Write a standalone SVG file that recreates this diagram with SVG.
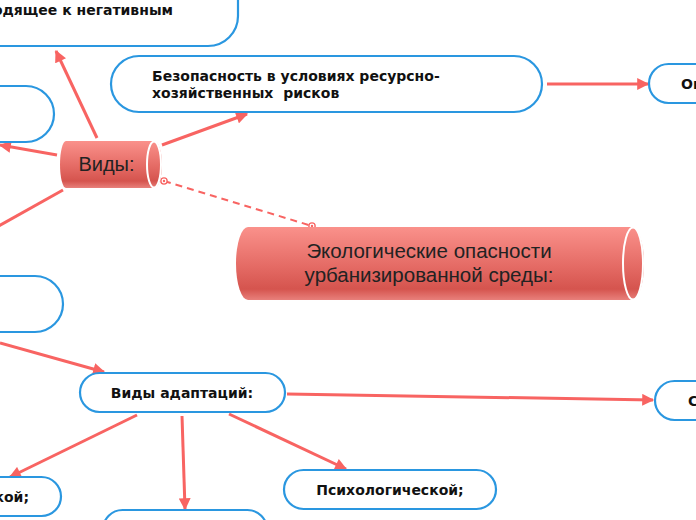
<svg xmlns="http://www.w3.org/2000/svg" width="696" height="520" viewBox="0 0 696 520">
<defs>
<linearGradient id="cyl" x1="0" y1="0" x2="0" y2="1">
<stop offset="0" stop-color="#fa918b"/>
<stop offset="0.55" stop-color="#e46a64"/>
<stop offset="0.85" stop-color="#d5544e"/>
<stop offset="1" stop-color="#e8807b"/>
</linearGradient>
<marker id="arr" viewBox="0 0 10 10" refX="9" refY="5" markerWidth="4.2" markerHeight="4" orient="auto" markerUnits="strokeWidth">
<path d="M0,0 L10,5 L0,10 z" fill="#f86462"/>
</marker>
<marker id="dot" viewBox="0 0 10 10" refX="5" refY="5" markerWidth="9" markerHeight="9" markerUnits="userSpaceOnUse">
<circle cx="5" cy="5" r="3.5" fill="#fff" stroke="#f86462" stroke-width="1.5"/>
<circle cx="5" cy="5" r="1.3" fill="#f86462"/>
</marker>
</defs>
<style>
.n{fill:#fff;stroke:#2a97e0;stroke-width:2.2}
.t{font-family:"DejaVu Sans",Verdana,sans-serif;font-weight:bold;font-size:14px;fill:#111}
.c{stroke:#f86462;stroke-width:3;fill:none}
.ct{font-family:"Liberation Sans",Arial,sans-serif;fill:#222}
.cap{fill:url(#cyl)}
</style>
<g id="connectors">
<line class="c" x1="97" y1="138" x2="56" y2="51" marker-end="url(#arr)"/>
<line class="c" x1="57" y1="155" x2="0" y2="145" marker-end="url(#arr)"/>
<line class="c" x1="162" y1="145" x2="247" y2="114" marker-end="url(#arr)"/>
<line class="c" x1="63" y1="190" x2="-5" y2="228"/>
<line class="c" x1="0" y1="343" x2="104" y2="372" marker-end="url(#arr)"/>
<line class="c" x1="547" y1="84" x2="648" y2="84" marker-end="url(#arr)"/>
<line class="c" x1="287" y1="394" x2="653" y2="400" marker-end="url(#arr)"/>
<line class="c" x1="137" y1="415" x2="10" y2="477" marker-end="url(#arr)"/>
<line class="c" x1="182" y1="416" x2="185" y2="509" marker-end="url(#arr)"/>
<line class="c" x1="229" y1="414" x2="346" y2="469" marker-end="url(#arr)"/>
<line x1="164" y1="181" x2="312" y2="226" stroke="#f86462" stroke-width="2" stroke-dasharray="7,5" marker-start="url(#dot)" marker-end="url(#dot)"/>
</g>
<g id="node-top">
<rect class="n" x="-40" y="-30" width="278" height="76" rx="30"/>
<text class="t" x="173" y="15" text-anchor="end">одящее к негативным</text>
</g>
<g id="node-bezopasnost">
<rect class="n" x="111" y="56" width="431" height="56" rx="28"/>
<text class="t" x="152" y="81">Безопасность в условиях ресурсно-</text>
<text class="t" x="152" y="98" xml:space="preserve">хозяйственных  рисков</text>
</g>
<g id="node-op">
<rect class="n" x="649" y="64" width="80" height="39" rx="19.5"/>
<text class="t" x="681" y="89">Оп</text>
</g>
<g id="node-left1">
<rect class="n" x="-60" y="86" width="114" height="56" rx="28"/>
</g>
<g id="node-vidy">
<path class="cap" d="M66,141 L154,141 A8,23.5 0 0 1 154,188 L66,188 A6,23.5 0 0 1 66,141 z"/>
<ellipse cx="154" cy="164.5" rx="7" ry="23" fill="none" stroke="#fff" stroke-width="2"/>
<text class="ct" x="106.5" y="171" font-size="20" text-anchor="middle">Виды:</text>
</g>
<g id="node-main">
<path d="M248,227 L632,227 A12,36.5 0 0 1 632,300 L248,300 A12,36.5 0 0 1 248,227 z" fill="url(#cyl)"/>
<ellipse cx="633" cy="263.5" rx="10" ry="36" fill="none" stroke="#fff" stroke-width="2"/>
<text class="ct" x="429" y="258" font-size="20.5" text-anchor="middle">Экологические опасности</text>
<text class="ct" x="429" y="282" font-size="20.5" text-anchor="middle">урбанизированной среды:</text>
</g>
<g id="node-left2">
<rect class="n" x="-60" y="276" width="123" height="56" rx="28"/>
</g>
<g id="node-adapt">
<rect class="n" x="80" y="373" width="205" height="39" rx="19.5"/>
<text class="t" x="182" y="398" text-anchor="middle">Виды адаптаций:</text>
</g>
<g id="node-s">
<rect class="n" x="655" y="381" width="80" height="39" rx="19.5"/>
<text class="t" x="688" y="406">С</text>
</g>
<g id="node-bl">
<rect class="n" x="-80" y="477" width="141" height="39" rx="19.5"/>
<text class="t" x="29" y="502" text-anchor="end">кой;</text>
</g>
<g id="node-bm">
<rect class="n" x="103" y="510" width="164" height="39" rx="19.5"/>
</g>
<g id="node-psych">
<rect class="n" x="284" y="470" width="212" height="39" rx="19.5"/>
<text class="t" x="390" y="495" text-anchor="middle">Психологической;</text>
</g>
</svg>
